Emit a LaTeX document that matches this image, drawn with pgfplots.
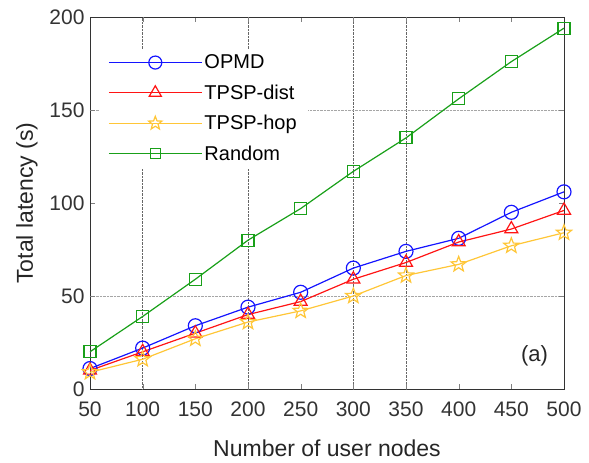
\documentclass[border=0pt]{standalone}
\usepackage{pgfplots}
\pgfplotsset{compat=1.18}
\usepackage{fontspec}
\setmainfont{Liberation Sans}
\definecolor{cblue}{RGB}{20,20,255}
\definecolor{cred}{RGB}{255,20,20}
\definecolor{cyel}{RGB}{255,198,55}
\definecolor{cgreen}{RGB}{25,160,25}
\pgfdeclareplotmark{pentagram}{%
  \pgfpathmoveto{\pgfpointpolar{90}{\pgfplotmarksize}}%
  \pgfpathlineto{\pgfpointpolar{126}{0.42\pgfplotmarksize}}%
  \pgfpathlineto{\pgfpointpolar{162}{\pgfplotmarksize}}%
  \pgfpathlineto{\pgfpointpolar{198}{0.42\pgfplotmarksize}}%
  \pgfpathlineto{\pgfpointpolar{234}{\pgfplotmarksize}}%
  \pgfpathlineto{\pgfpointpolar{270}{0.42\pgfplotmarksize}}%
  \pgfpathlineto{\pgfpointpolar{306}{\pgfplotmarksize}}%
  \pgfpathlineto{\pgfpointpolar{342}{0.42\pgfplotmarksize}}%
  \pgfpathlineto{\pgfpointpolar{18}{\pgfplotmarksize}}%
  \pgfpathlineto{\pgfpointpolar{54}{0.42\pgfplotmarksize}}%
  \pgfpathclose\pgfusepathqstroke}
\begin{document}
\begin{tikzpicture}
\begin{axis}[
  scale only axis, width=474pt, height=372pt,
  xmin=50, xmax=500, ymin=0, ymax=200,
  xtick={50,100,...,500}, ytick={0,50,100,150,200},
  tick align=inside, tick pos=both, major tick length=5pt,
  extra x ticks={100,200,300,350}, extra x tick labels={},
  extra x tick style={grid=major, major grid style={densely dotted, gray!80!black, line width=0.8pt}},
  extra y ticks={50,150}, extra y tick labels={},
  extra y tick style={grid=major, major grid style={densely dotted, gray!70, line width=0.6pt}},
  /pgf/number format/assume math mode=true,
  ticklabel style={font=\fontsize{21}{25}\selectfont, text=black!80},
  xticklabel style={yshift=-9pt},
  yticklabel style={xshift=-2pt},
  xlabel={Number of user nodes}, ylabel={Total latency (s)},
  label style={font=\fontsize{23}{27}\selectfont, text=black!85},
  xlabel style={yshift=-17pt},
  ylabel style={yshift=5pt},
  axis line style={line width=0.9pt, black!80},
  legend style={at={(0.021,0.915)}, anchor=north west, draw=white, fill=white,
    font=\fontsize{20}{24}\selectfont, row sep=10.5pt, inner xsep=8pt, inner ysep=4pt},
  legend cell align=left,
  legend image code/.code={\draw[mark repeat=2, mark phase=2] plot coordinates {(0pt,0pt) (46.5pt,0pt) (93pt,0pt)};},
  every axis plot/.append style={line width=1.2pt},
]
\coordinate (ll) at (rel axis cs:0,0);
\coordinate (ur) at (rel axis cs:1,1);
\addplot[cblue, mark=o, mark size=7pt, mark options={line width=1.2pt}, forget plot] coordinates {
(50,11) (100,22) (150,34) (200,44) (250,52) (300,65) (350,74) (400,81) (450,95) (500,106)};
\addplot[cred, mark=triangle, mark size=7.5pt, mark options={line width=1.2pt}, forget plot] coordinates {
(50,10) (100,20) (150,30) (200,40) (250,47) (300,59) (350,68) (400,79) (450,86) (500,96)};
\addplot[cyel, mark=pentagram, mark size=8pt, mark options={line width=1.2pt}, forget plot] coordinates {
(50,9) (100,16) (150,27) (200,36) (250,42) (300,50) (350,61) (400,67) (450,77) (500,84)};
\addplot[cgreen, mark=square, mark size=6pt, mark options={line width=1.2pt}, forget plot] coordinates {
(50,20) (100,39) (150,59) (200,80) (250,97) (300,117) (350,135) (400,156) (450,176) (500,194)};
\addlegendimage{draw=cblue, line width=1.3pt, mark=o, mark size=6.5pt, mark options={line width=1.2pt, draw=cblue}}
\addlegendentry{OPMD}
\addlegendimage{draw=cred, line width=1.3pt, mark=triangle, mark size=7pt, mark options={line width=1.2pt, draw=cred}}
\addlegendentry{TPSP-dist}
\addlegendimage{draw=cyel, line width=1.3pt, mark=pentagram, mark size=7pt, mark options={line width=1.2pt, draw=cyel}}
\addlegendentry{TPSP-hop}
\addlegendimage{draw=cgreen, line width=1.3pt, mark=square, mark size=5pt, mark options={line width=1.2pt, draw=cgreen}}
\addlegendentry{Random}
\node[font=\fontsize{22}{26}\selectfont, text=black!85] at (axis cs:472,18) {(a)};
\end{axis}
\pgfresetboundingbox
\path[use as bounding box] ([shift={(-90pt,-74pt)}]ll) rectangle ([shift={(25pt,17pt)}]ur);
\end{tikzpicture}
\end{document}
